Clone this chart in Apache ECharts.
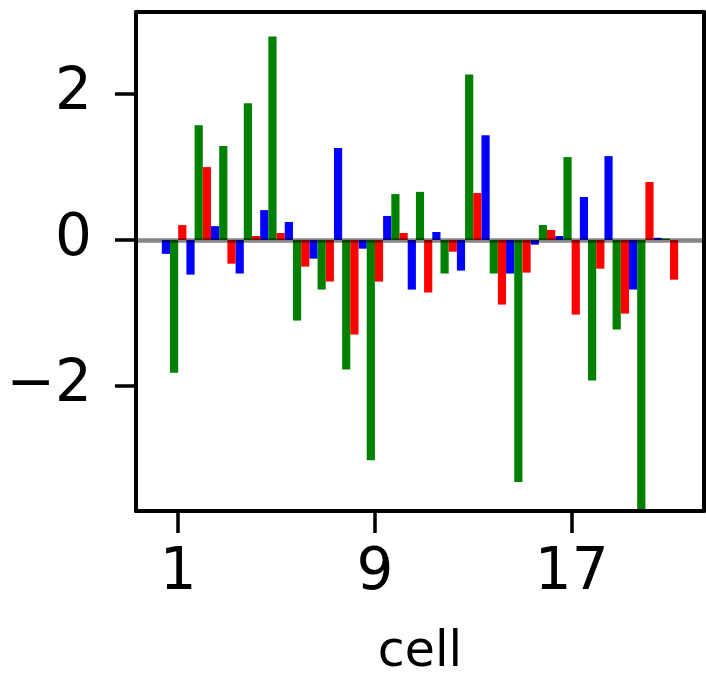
<!DOCTYPE html>
<html>
<head>
<meta charset="utf-8">
<script src="https://cdn.jsdelivr.net/npm/echarts@6/dist/echarts.min.js"></script>
<style>
html,body{margin:0;padding:0;background:#fff;}
#c{width:706px;height:676px;}
</style>
</head>
<body>
<div id="c"></div>
<script>
const cells = [1,2,3,4,5,6,7,8,9,10,11,12,13,14,15,16,17,18,19,20,21];
const blueVals = [-0.19,-0.475,0.19,-0.46,0.41,0.247,-0.256,1.26,-0.119,0.33,-0.68,0.11,-0.42,1.438,-0.46,-0.064,0.055,0.59,1.15,-0.68,0.03];
const greenVals = [-1.82,1.575,1.29,1.877,2.79,-1.105,-0.68,-1.777,-3.02,0.63,0.66,-0.46,2.27,-0.46,-3.32,0.205,1.137,-1.927,-1.228,-3.95,0.02];
const redVals = [0.205,1.0,-0.325,0.055,0.096,-0.365,-0.57,-1.297,-0.57,0.096,-0.72,-0.16,0.644,-0.886,-0.447,0.137,-1.023,-0.393,-1.01,0.795,-0.544];
const xTicks = [1,9,17];
const yTicks = [-2,0,2];
const xLabel = 'cell';

const FONT = 'DejaVu Sans';
const chart = echarts.init(document.getElementById('c'), null, {renderer:'canvas'});
const pairs = vals => vals.map((v,i)=>[cells[i], v]);
const nCells = cells.length;
// bar groups centred on a shifted hidden axis (group offset as in reference)
const hidMin = cells[0] - 0.5 - 0.05*nCells;
const hidMax = cells[nCells-1] + 0.5 + 0.05*nCells;
const shift = 1/6;
const yMin = -3.717, yMax = 3.127;
const FRAME_W = 4;

const barCommon = {type:'bar', xAxisIndex:1, yAxisIndex:0, barWidth:'33.3%', barGap:'0%', clip:true};
chart.setOption({
  animation:false,
  grid:{left:136, right:2, top:12, bottom:165, show:false, containLabel:false, outerBoundsMode:'none'},
  xAxis:[
    {type:'value', position:'bottom', min:hidMin - shift, max:hidMax - shift, z:10,
     axisLine:{show:true, onZero:false, lineStyle:{color:'#000', width:FRAME_W}},
     axisTick:{show:true, customValues:xTicks, length:22, lineStyle:{color:'#000', width:3.5}},
     axisLabel:{show:true, customValues:xTicks, margin:34, color:'#000', fontSize:58, fontFamily:FONT},
     splitLine:{show:false},
     name:xLabel, nameLocation:'middle', nameGap:118,
     nameTextStyle:{color:'#000', fontSize:49, fontFamily:FONT}},
    {type:'value', position:'top', min:hidMin, max:hidMax, z:10,
     axisLine:{show:true, onZero:false, lineStyle:{color:'#000', width:FRAME_W}},
     axisTick:{show:false}, axisLabel:{show:false}, splitLine:{show:false}}
  ],
  yAxis:[
    {type:'value', position:'left', min:yMin, max:yMax, z:10,
     axisLine:{show:true, onZero:false, lineStyle:{color:'#000', width:FRAME_W}},
     axisTick:{show:true, customValues:yTicks, length:21, lineStyle:{color:'#000', width:3.5}},
     axisLabel:{show:true, customValues:yTicks, margin:44, color:'#000', fontSize:58, fontFamily:FONT,
       formatter: v => (v < 0 ? '\u2212' + Math.abs(v) : String(v))},
     splitLine:{show:false}},
    {type:'value', position:'right', min:yMin, max:yMax, z:10,
     axisLine:{show:true, onZero:false, lineStyle:{color:'#000', width:FRAME_W}},
     axisTick:{show:false}, axisLabel:{show:false}, splitLine:{show:false}}
  ],
  series:[
    Object.assign({name:'blue', data:pairs(blueVals), itemStyle:{color:'#0000ff'}}, barCommon),
    Object.assign({name:'green', data:pairs(greenVals), itemStyle:{color:'#008000'}}, barCommon),
    Object.assign({name:'red', data:pairs(redVals), itemStyle:{color:'#ff0000'},
      markLine:{silent:true, symbol:['none','none'], label:{show:false}, z:5,
        lineStyle:{color:'rgba(0,0,0,0.47)', width:4.5, type:'solid'},
        data:[{yAxis:0}]}}, barCommon)
  ]
});
</script>
</body>
</html>
